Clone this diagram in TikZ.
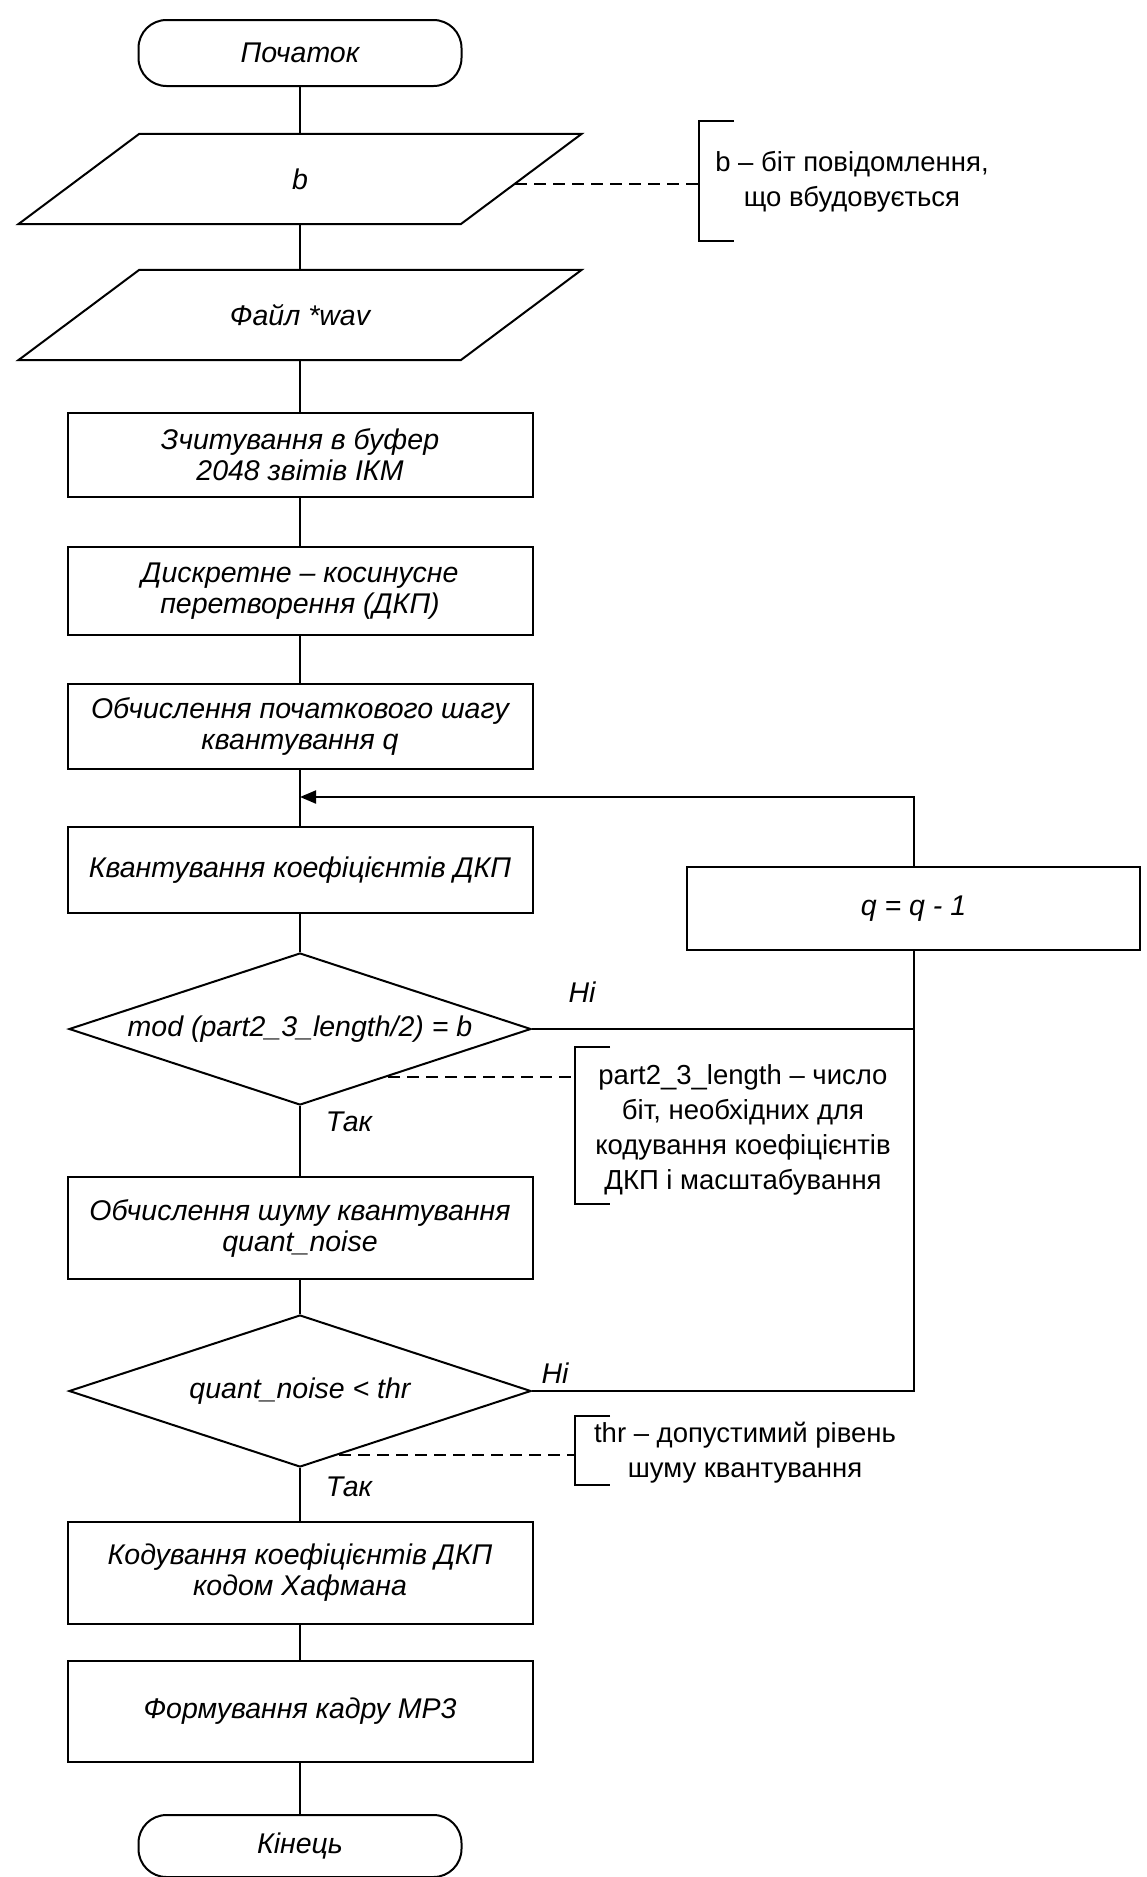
\documentclass[tikz,border=0pt]{standalone}
\usepackage{fontspec}
\setmainfont{Liberation Sans}
\usetikzlibrary{arrows.meta,calc,shapes.geometric}
\newcommand\bxfont{\fontsize{28.5}{31}\selectfont\itshape}
\newcommand\anfont{\fontsize{27.5}{35}\selectfont}
\begin{document}
\begin{tikzpicture}[x=1pt,y=-1pt,
  base/.style={line width=2pt},
  proc/.style={base, draw, fill=white, minimum width=465pt, inner sep=0pt, align=center, font=\bxfont},
  term/.style={base, draw, fill=white, rounded corners=28pt, minimum width=323pt, inner sep=0pt, font=\bxfont},
  iobox/.style={minimum width=563pt, minimum height=90pt, inner sep=0pt, font=\bxfont},
  decision/.style={base, draw, fill=white, diamond, aspect=3, minimum width=462pt, minimum height=152pt, inner sep=0pt, font=\bxfont},
  note/.style={align=center, inner sep=0pt, font=\anfont},
  brk/.style={minimum width=35pt, inner sep=0pt},
  lbl/.style={inner sep=0pt, font=\bxfont},
  conn/.style={base},
  notelink/.style={base, dash pattern=on 12pt off 7pt},
]
\path[use as bounding box, fill=white] (0,0) rectangle (1147,1877);

% main column
\node[term, minimum height=66pt] (start) at (300,53) {Початок};
\node[iobox] (b) at (300,179) {b};
\node[iobox] (wav) at (300,315) {Файл *wav};
\node[proc, minimum height=84pt] (box1) at (300,455) {Зчитування в буфер\\2048 звітів ІКМ};
\node[proc, minimum height=88pt] (box2) at (300,591) {Дискретне – косинусне\\перетворення (ДКП)};
\node[proc, minimum height=85pt] (box3) at (300,726) {Обчислення початкового шагу\\квантування q};
\coordinate (merge) at (300,797);
\node[proc, minimum height=86pt] (box4) at (300,870) {Квантування коефіцієнтів ДКП};
\node[decision] (d1) at (300,1029) {mod (part2\_3\_length/2) = b};
\node[proc, minimum height=102pt] (box5) at (300,1228) {Обчислення шуму квантування\\quant\_noise};
\node[decision] (d2) at (300,1391) {quant\_noise < thr};
\node[proc, minimum height=102pt] (box6) at (300,1573) {Кодування коефіцієнтів ДКП\\кодом Хафмана};
\node[proc, minimum height=101pt] (box7) at (300,1711.5) {Формування кадру MP3};
\node[term, minimum height=62pt] (end) at (300,1846) {Кінець};

% loop box
\node[proc, minimum width=453pt, minimum height=83pt] (q) at (913.5,908.5) {q = q - 1};

% parallelograms
\draw[base] ([xshift=121pt]b.north west) -- (b.north east) -- ([xshift=-121pt]b.south east) -- (b.south west) -- cycle;
\draw[base] ([xshift=121pt]wav.north west) -- (wav.north east) -- ([xshift=-121pt]wav.south east) -- (wav.south west) -- cycle;

% connectors
\draw[conn] (start) -- (b);
\draw[conn] (b) -- (wav);
\draw[conn] (wav) -- (box1);
\draw[conn] (box1) -- (box2);
\draw[conn] (box2) -- (box3);
\draw[conn] (box3) -- (box4);
\draw[conn] (box4) -- (d1);
\draw[conn] (d1) -- (box5);
\draw[conn] (box5) -- (d2);
\draw[conn] (d2) -- (box6);
\draw[conn] (box6) -- (box7);
\draw[conn] (box7) -- (end);

\draw[conn] (d1.east) -- (d1.east -| q.south);
\draw[conn] (d2.east) -| (q.south);
\draw[conn, -{Triangle[length=16pt,width=13pt]}] (q.north) |- (merge);

% labels
\node[lbl] (no1) at (582,992) {Ні};
\node[lbl] (yes1) at (349,1122) {Так};
\node[lbl] (no2) at (555,1373) {Ні};
\node[lbl] (yes2) at (349,1487) {Так};

% annotations
\node[brk, minimum height=120pt] (br1) at (716.5,181) {};
\draw[base] (br1.north east) -- (br1.north west) -- (br1.south west) -- (br1.south east);
\node[note] (ann1) at (852,182) {b – біт повідомлення,\\що вбудовується};
\coordinate (p1) at ($(b.north east)!0.55!([xshift=-121pt]b.south east)$);
\draw[notelink] (p1) -- (p1 -| br1.west);

\node[brk, minimum height=157pt] (br2) at (592.5,1125.5) {};
\draw[base] (br2.north east) -- (br2.north west) -- (br2.south west) -- (br2.south east);
\node[note] (ann2) at (743,1130) {part2\_3\_length – число\\біт, необхідних для\\кодування коефіцієнтів\\ДКП і масштабування};
\coordinate (p2) at ($(d1.east)!0.62!(d1.south)$);
\draw[notelink] (p2) -- (p2 -| br2.west);

\node[brk, minimum height=69pt] (br3) at (592.5,1450.5) {};
\draw[base] (br3.north east) -- (br3.north west) -- (br3.south west) -- (br3.south east);
\node[note] (ann3) at (745,1453) {thr – допустимий рівень\\шуму квантування};
\coordinate (p3) at ($(d2.east)!0.83!(d2.south)$);
\draw[notelink] (p3) -- (p3 -| br3.west);
\end{tikzpicture}
\end{document}
